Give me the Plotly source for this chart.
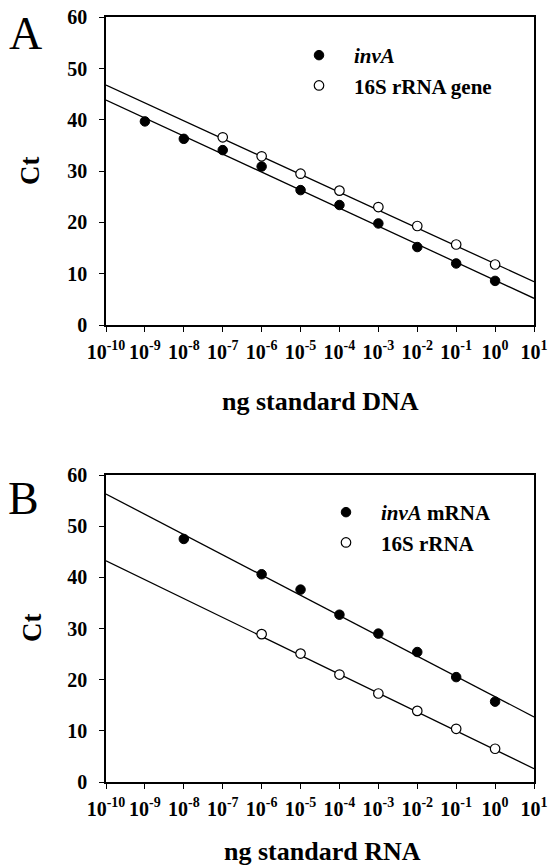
import numpy as np
import plotly.graph_objects as go

# ---- data -------------------------------------------------------------
# Panel A: standard DNA (ng, as log10 exponent) vs threshold cycle
dna_exp_invA = [-9, -8, -7, -6, -5, -4, -3, -2, -1, 0]
ct_dna_invA = [39.7, 36.3, 34.1, 30.9, 26.3, 23.4, 19.8, 15.2, 12.0, 8.6]
dna_exp_16s = [-7, -6, -5, -4, -3, -2, -1, 0]
ct_dna_16s = [36.6, 32.9, 29.5, 26.2, 23.0, 19.3, 15.7, 11.8]

# Panel B: standard RNA
rna_exp_invA = [-8, -6, -5, -4, -3, -2, -1, 0]
ct_rna_invA = [47.5, 40.6, 37.6, 32.7, 29.0, 25.4, 20.5, 15.7]
rna_exp_16s = [-6, -5, -4, -3, -2, -1, 0]
ct_rna_16s = [28.9, 25.1, 21.0, 17.3, 13.9, 10.4, 6.5]

# Standard-curve fits: Ct at 1 ng and slope per decade
fit_dna_invA = (8.72, -3.516)
fit_dna_16s = (11.94, -3.486)
fit_rna_invA = (16.68, -3.96)
fit_rna_16s = (6.30, -3.694)

tick_exponents = list(range(-10, 2))
tick_labels = [f"10<sup>{e}</sup>" for e in tick_exponents]

W, H = 550, 868
FONT = "Liberation Serif"

fig = go.Figure()


def px_x(p):
    return p / W


def px_y(p):
    return 1 - p / H


def add_panel(xa, ya, exp_fill, ct_fill, exp_open, ct_open, fit_fill, fit_open,
              name_fill, name_open, legend):
    xs = np.array([1e-10, 10.0])
    for fit in (fit_fill, fit_open):
        b, m = fit
        fig.add_trace(go.Scatter(
            x=xs, y=b + m * np.log10(xs), mode="lines",
            line=dict(color="black", width=1.3),
            xaxis=xa, yaxis=ya, showlegend=False, hoverinfo="skip"))
    fig.add_trace(go.Scatter(
        x=[10.0 ** e for e in exp_fill], y=ct_fill, mode="markers",
        marker=dict(symbol="circle", size=9.5, color="black",
                    line=dict(color="black", width=1)),
        xaxis=xa, yaxis=ya, name=name_fill, legend=legend))
    fig.add_trace(go.Scatter(
        x=[10.0 ** e for e in exp_open], y=ct_open, mode="markers",
        marker=dict(symbol="circle", size=9.5, color="white",
                    line=dict(color="black", width=1.2)),
        xaxis=xa, yaxis=ya, name=name_open, legend=legend))


add_panel("x", "y", dna_exp_invA, ct_dna_invA, dna_exp_16s, ct_dna_16s,
          fit_dna_invA, fit_dna_16s, "<i>invA</i>", "16S rRNA gene", "legend")
add_panel("x2", "y2", rna_exp_invA, ct_rna_invA, rna_exp_16s, ct_rna_16s,
          fit_rna_invA, fit_rna_16s, "<i>invA</i> mRNA", "16S rRNA", "legend2")

xdom = [px_x(106), px_x(534)]
axis_common = dict(showline=True, linecolor="black", linewidth=1.5, mirror=True,
                   showgrid=False, zeroline=False, ticks="outside", ticklen=5,
                   tickwidth=1.3, tickcolor="black", automargin=False,
                   tickfont=dict(family=FONT, size=20, color="black", weight="bold"))

xaxis_cfg = dict(axis_common, type="log", range=[-10, 1],
                 tickvals=[10.0 ** e for e in tick_exponents], ticktext=tick_labels,
                 domain=xdom, ticklabelstandoff=3)
yaxis_cfg = dict(axis_common, range=[0, 60], tickvals=[0, 10, 20, 30, 40, 50, 60],
                 ticklabelstandoff=8)

legend_font = dict(family=FONT, size=21, color="black", weight="bold")
fig.update_layout(
    width=W, height=H, autosize=False,
    margin=dict(l=0, r=0, t=0, b=0),
    paper_bgcolor="white", plot_bgcolor="white",
    xaxis=dict(xaxis_cfg, anchor="y"),
    yaxis=dict(yaxis_cfg, domain=[px_y(325), px_y(17.3)], anchor="x"),
    xaxis2=dict(xaxis_cfg, anchor="y2"),
    yaxis2=dict(yaxis_cfg, domain=[px_y(782), px_y(475)], anchor="x2"),
    legend=dict(x=px_x(284), y=px_y(35), xanchor="left", yanchor="top",
                bgcolor="rgba(0,0,0,0)", itemwidth=60, tracegroupgap=0,
                font=legend_font),
    legend2=dict(x=px_x(311), y=px_y(492), xanchor="left", yanchor="top",
                 bgcolor="rgba(0,0,0,0)", itemwidth=60, tracegroupgap=0,
                 font=legend_font),
)

annos = [
    dict(text="A", x=px_x(25), y=px_y(33), size=46, weight="normal", angle=0),
    dict(text="B", x=px_x(23), y=px_y(498), size=46, weight="normal", angle=0),
    dict(text="Ct", x=px_x(30), y=px_y(171), size=27, weight="bold", angle=-90),
    dict(text="Ct", x=px_x(32), y=px_y(628), size=27, weight="bold", angle=-90),
    dict(text="ng standard DNA", x=px_x(320), y=px_y(402), size=26, weight="bold", angle=0),
    dict(text="ng standard RNA", x=px_x(322), y=px_y(851), size=26, weight="bold", angle=0),
]
for a in annos:
    fig.add_annotation(
        text=a["text"], x=a["x"], y=a["y"], xref="paper", yref="paper",
        xanchor="center", yanchor="middle", showarrow=False, textangle=a["angle"],
        borderpad=0,
        font=dict(family=FONT, size=a["size"], color="black", weight=a["weight"]))

fig.write_html("out.html")
